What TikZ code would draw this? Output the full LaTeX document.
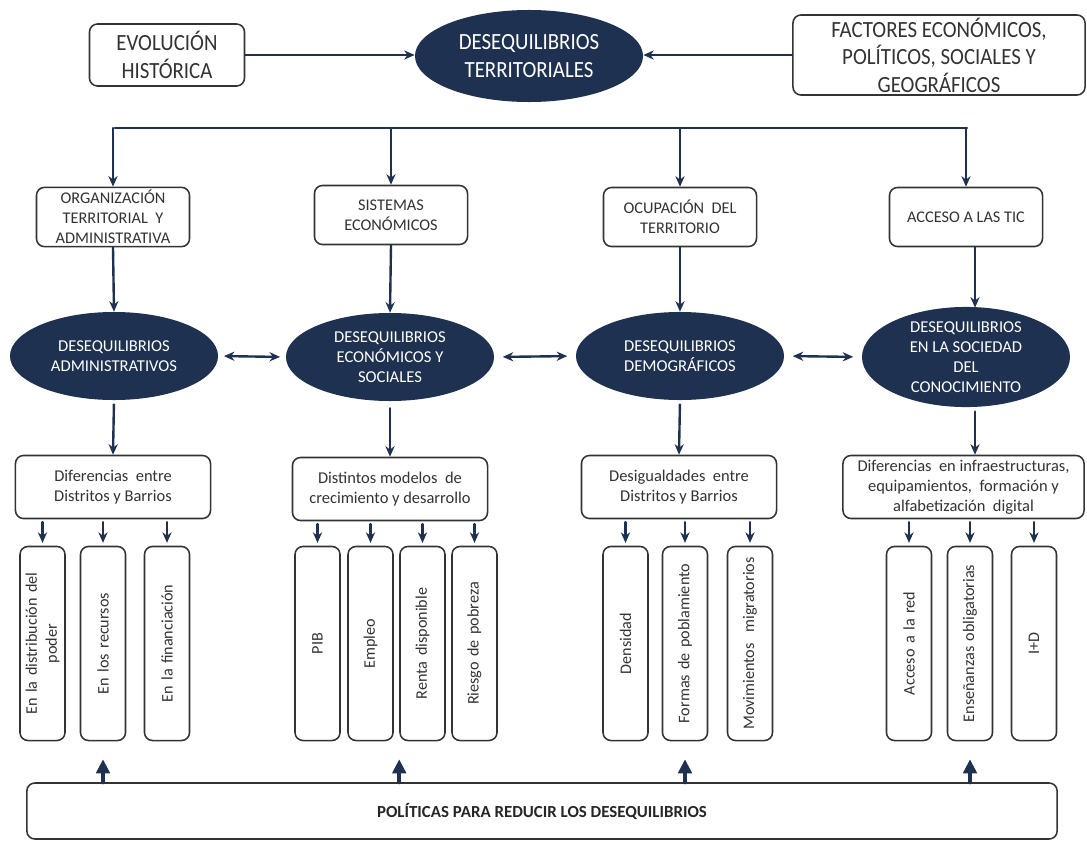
\documentclass[tikz,border=0pt]{standalone}
\usepackage{fontspec}
\setmainfont{Carlito}
\newfontfamily\condfont{Carlito}[FakeStretch=0.9]
\usepackage{tikz}
\usetikzlibrary{arrows.meta,calc,positioning,shapes.geometric}
\definecolor{desnavy}{HTML}{1F3150}
\definecolor{desline}{HTML}{333333}
\definecolor{desink}{HTML}{333333}

\begin{document}
\begin{tikzpicture}[x=0.025cm,y=-0.025cm,line cap=round,line join=round,
  text=desink,
  link/.style={desnavy,line width=1.7pt},
  arr/.style={link,-{Stealth[length=7.5pt,width=6.5pt]}},
  arrboth/.style={link,{Stealth[length=7.5pt,width=6.5pt]}-{Stealth[length=7.5pt,width=6.5pt]},shorten <=4pt,shorten >=4pt},
  uparr/.style={desnavy,line width=3pt,-{Triangle[length=10pt,width=9.5pt]}},
  box/.style={draw=desline,line width=1.1pt,rounded corners=0.2cm,fill=white,
    align=center,inner sep=2pt},
  topbox/.style={box,font=\condfont\fontsize{16.5}{19.5}\selectfont},
  catbox/.style={box,minimum width=3.825cm,minimum height=1.475cm,
    font=\fontsize{11.6}{14.2}\selectfont},
  subbox/.style={box,minimum width=4.875cm,minimum height=1.575cm,
    font=\fontsize{11.7}{14.2}\selectfont},
  vbox/.style={box,rotate=90,minimum width=4.85cm,minimum height=1.125cm,
    text width=4.5cm,font=\fontsize{11.5}{14.2}\selectfont},
  deseq/.style={ellipse,fill=desnavy,text=white,align=center,inner sep=0pt,
    minimum width=5.2cm,minimum height=2.2cm,font=\fontsize{11.8}{14.2}\selectfont}]
\path[use as bounding box] (0,0) rectangle (1087,842);
\fill[white] (0,0) rectangle (1087,842);

% fila superior
\node[topbox,minimum width=3.875cm,minimum height=1.55cm] (evol) at (167,55)
  {EVOLUCIÓN\\HISTÓRICA};
\node[deseq,minimum width=5.7cm,minimum height=2.3cm,
  font=\condfont\fontsize{16.5}{19.5}\selectfont] (terr) at (529,56)
  {DESEQUILIBRIOS\\TERRITORIALES};
\node[topbox,minimum width=7.3cm,minimum height=2cm] (fact) at (939,55)
  {FACTORES ECONÓMICOS,\\POLÍTICOS, SOCIALES Y\\GEOGRÁFICOS};
\draw[arr] (evol.east) -- (evol.east -| terr.west);
\draw[arr] (fact.west) -- (fact.west -| terr.east);

% factores
\node[catbox] (org) at (113,217) {ORGANIZACIÓN\\TERRITORIAL \ Y\\ADMINISTRATIVA};
\node[catbox] (sis) at (391,215) {SISTEMAS\\ECONÓMICOS};
\node[catbox] (ocu) at (680,217) {OCUPACIÓN \ DEL\\TERRITORIO};
\node[catbox] (tic) at (966,217) {ACCESO A LAS TIC};
\coordinate (bus) at (0,128);
\draw[link] ([xshift=0.05cm]org.north |- bus) -- ([xshift=0.025cm]tic.north |- bus);
\foreach \n in {org,sis,ocu,tic}
  \draw[arr] (\n.north |- bus) -- (\n.north);

% desequilibrios
\node[deseq] (adm) at (114,356) {DESEQUILIBRIOS\\ADMINISTRATIVOS};
\node[deseq] (eco) at (390,357) {DESEQUILIBRIOS\\ECONÓMICOS Y\\SOCIALES};
\node[deseq] (dem) at (680,356) {DESEQUILIBRIOS\\DEMOGRÁFICOS};
\node[deseq] (soc) at (966,357) {DESEQUILIBRIOS\\EN LA SOCIEDAD\\DEL\\CONOCIMIENTO};
\draw[arrboth] (adm.east) -- (eco.west);
\draw[arrboth,shorten <=6pt,shorten >=6pt] (eco.east) -- (dem.west);
\draw[arrboth,shorten <=6pt,shorten >=6pt] (dem.east) -- (soc.west);
\draw[arr] (org.south) -- (adm.north);
\draw[arr] (sis.south) -- (eco.north);
\draw[arr] (ocu.south) -- (dem.north);
\draw[arr] ([xshift=0.225cm]tic.south) -- ([xshift=0.225cm,yshift=-0.025cm]tic.south |- soc.north);

% diferencias
\node[subbox] (dif) at (113,487) {Diferencias \ entre\\Distritos y Barrios};
\node[subbox] (mod) at (390,489) {Distintos modelos \ de\\crecimiento y desarrollo};
\node[subbox] (des) at (679,487) {Desigualdades \ entre\\Distritos y Barrios};
\node[subbox,minimum width=6.025cm] (inf) at (963.5,487)
  {Diferencias \ en infraestructuras,\\equipamientos, \ formación y\\alfabetización \ digital};
\draw[arr,shorten <=3pt] (adm.south) -- (dif.north);
\draw[arr,shorten <=5pt] (eco.south) -- (mod.north);
\draw[arr,shorten <=3pt] (dem.south) -- (des.north);
\draw[arr,shorten <=3pt] ([xshift=0.225cm]soc.south) -- ([xshift=0.225cm]soc.south |- inf.north);

% indicadores
\node[vbox] (pod) at (42.5,643.5) {En la distribución del\\poder};
\node[vbox] (rec) at (103,643.5) {En los recursos};
\node[vbox] (fin) at (167,643.5) {En la financiación};
\node[vbox] (pib) at (317.5,643.5) {PIB};
\node[vbox] (emp) at (370.5,643.5) {Empleo};
\node[vbox] (ren) at (422.5,643.5) {Renta disponible};
\node[vbox] (rie) at (474.5,643.5) {Riesgo de pobreza};
\node[vbox] (den) at (625.5,643.5) {Densidad};
\node[vbox] (for) at (685,643.5) {Formas de poblamiento};
\node[vbox] (mov) at (750,643.5) {Movimientos \ migratorios};
\node[vbox] (red) at (909,643.5) {Acceso a la red};
\node[vbox] (ens) at (970,643.5) {Enseñanzas obligatorias};
\node[vbox] (imd) at (1034,643.5) {I+D};
\foreach \p/\c in {dif/pod,dif/rec,dif/fin,mod/pib,mod/emp,mod/ren,mod/rie,
                   des/den,des/for,des/mov,inf/red,inf/ens,inf/imd}
  \draw[arr,shorten <=2pt,shorten >=2pt] (\p.south -| \c.east) -- (\c.east);

% politicas
\node[box,minimum width=25.75cm,minimum height=1.4cm,font=\bfseries\fontsize{12}{14}\selectfont,
  text=black!85] (pol) at (542,811) {POLÍTICAS PARA REDUCIR LOS DESEQUILIBRIOS};
\foreach \v in {rec.east,ren.north,for.east,ens.east}
  \draw[uparr] (pol.north -| \v) -- ++(0,-23);
\end{tikzpicture}
\end{document}
